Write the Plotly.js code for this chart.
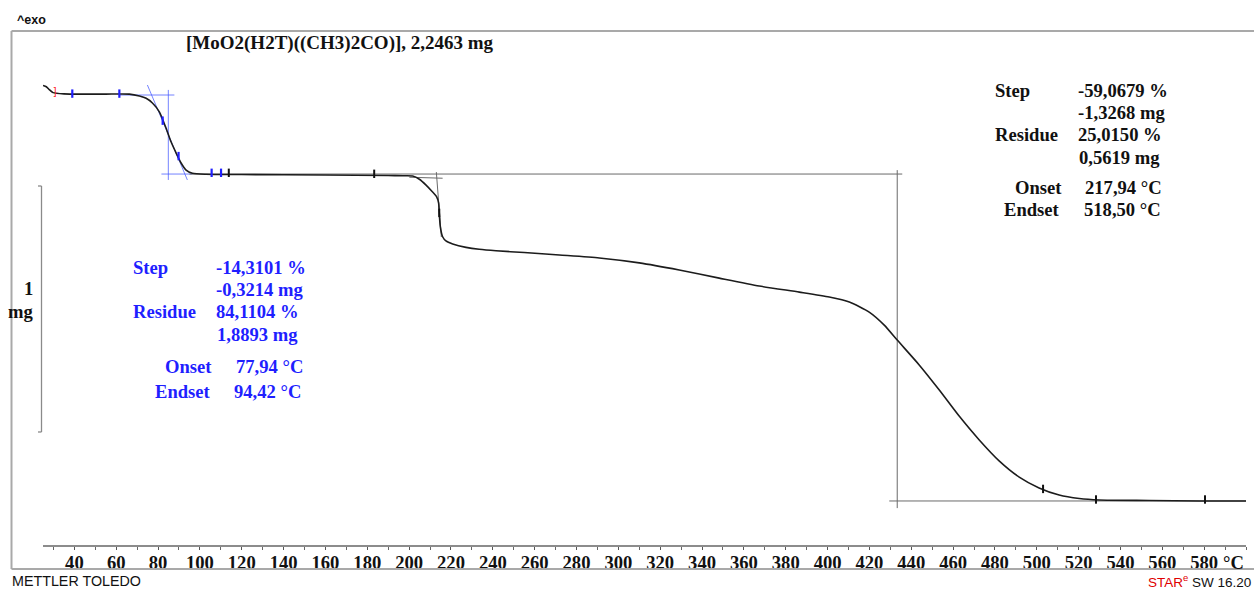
<!DOCTYPE html>
<html><head><meta charset="utf-8">
<script src="https://cdn.plot.ly/plotly-3.0.1.min.js"></script>
<style>html,body{margin:0;padding:0;background:#fff}#chart{width:1254px;height:589px}</style>
</head><body><div id="chart"></div>
<script>
// ---- TGA curve (temperature in °C, mass in mg) ----
const temperatureC = [25.0, 26.6, 28.0, 29.8, 35, 45, 55, 66.3, 71.1, 74.3, 77.3, 80.6, 83.8, 86.2, 88.6, 91.0, 93.4, 96.4, 102.9, 120, 160, 190, 197, 201.7, 204.9, 208.1, 211.1, 213.1, 214.1, 214.4, 214.9, 216.0, 217.6, 220.8, 227.2, 233.5, 241.5, 255, 271.8, 290.9, 310, 329.1, 348.2, 367.3, 386.5, 400.8, 410.4, 419.9, 427.1, 433.3, 443.8, 453.4, 462.9, 472.5, 482.0, 491.6, 501.1, 510.7, 520.3, 529.8, 553.7, 577.6, 600];
const massMg = [2.285, 2.280, 2.268, 2.256, 2.251, 2.250, 2.250, 2.250, 2.242, 2.233, 2.214, 2.178, 2.112, 2.056, 2.011, 1.970, 1.941, 1.928, 1.924, 1.923, 1.921, 1.919, 1.918, 1.917, 1.904, 1.880, 1.853, 1.833, 1.807, 1.767, 1.711, 1.670, 1.653, 1.641, 1.627, 1.619, 1.613, 1.606, 1.596, 1.584, 1.564, 1.535, 1.502, 1.470, 1.445, 1.425, 1.405, 1.364, 1.311, 1.250, 1.149, 1.047, 0.941, 0.844, 0.759, 0.693, 0.649, 0.620, 0.606, 0.600, 0.598, 0.596, 0.596];

// ---- evaluation markers ----
const blueMarkT = [39.0, 61.5, 82.2, 89.8, 105.6, 110.1];
const blueMarkM = [2.252, 2.252, 2.142, 1.998, 1.930, 1.930];
const blackMarkT = [113.8, 183.3, 214.4, 503.0, 528.3, 580.4];
const blackMarkM = [1.930, 1.926, 1.767, 0.645, 0.602, 0.602];
const limitT = [24.6, 30.6];
const limitM = [2.287, 2.255];
const limitText = ['[', ']'];

// ---- step 1 construction lines (blue) ----
const s1BaseTopT = [61.5, 87.8], s1BaseTopM = [2.2463, 2.2463];
const s1TangentT = [74.9, 94.0], s1TangentM = [2.287, 1.901];
const s1VertT = [84.9, 84.9], s1VertM = [2.267, 1.901];
const s1BaseBotT = [81.6, 96.4], s1BaseBotM = [1.925, 1.925];
// ---- step 2 construction lines (black) ----
const s2BaseTopT = [95, 435.7], s2BaseTopM = [1.925, 1.925];
const s2ExtrapT = [200.1, 216.0], s2ExtrapM = [1.912, 1.908];
const s2TangentT = [213.0, 215.4], s2TangentM = [1.933, 1.669];
const s2VertT = [433.3, 433.3], s2VertM = [1.941, 0.567];
const s2BaseBotT = [429.5, 600], s2BaseBotM = [0.596, 0.596];

// ---- axis ticks ----
const tickValues = [40,60,80,100,120,140,160,180,200,220,240,260,280,300,320,340,360,380,400,420,440,460,480,500,520,540,560,580];
const tickLabels = tickValues.map(v => '<b>' + v + '</b>');
const scaleBarTopMg = 1.8764, scaleBarLengthMg = 1;

// ---- texts ----
const titleText = '[MoO2(H2T)((CH3)2CO)], 2,2463 mg';
const step1Labels = ['Step', 'Residue'];
const step1Values = ['-14,3101 %', '-0,3214 mg', '84,1104 %', '1,8893 mg'];
const step1OnLabels = ['Onset', 'Endset'];
const step1OnValues = ['77,94 °C', '94,42 °C'];
const step2Labels = ['Step', 'Residue'];
const step2Values = ['-59,0679 %', '-1,3268 mg', '25,0150 %', '0,5619 mg'];
const step2OnLabels = ['Onset', 'Endset'];
const step2OnValues = ['217,94 °C', '518,50 °C'];

// ---- geometry helpers (pixel -> paper) ----
const L = 43, R = 8, T = 31, B = 44, W = 1254, H = 589;
const pw = W - L - R, ph = H - T - B;
const px = x => (x - L) / pw;
const py = y => (H - B - y) / ph;

const serif = {family: 'Liberation Serif, Times New Roman, serif', size: 18.6, weight: 'bold'};
const BLUE = '#1f1fff';

function lineTrace(xs, ys, color, width) {
  return {x: xs, y: ys, mode: 'lines', line: {color: color, width: width || 1}, hoverinfo: 'skip', showlegend: false};
}
const blueLine = 'rgba(70,90,255,0.75)';
const greyLine = '#6a6a6a';

const traces = [
  lineTrace(s1BaseTopT, s1BaseTopM, blueLine),
  lineTrace(s1TangentT, s1TangentM, blueLine),
  lineTrace(s1VertT, s1VertM, blueLine),
  lineTrace(s1BaseBotT, s1BaseBotM, blueLine),
  lineTrace(s2BaseTopT, s2BaseTopM, greyLine),
  lineTrace(s2ExtrapT, s2ExtrapM, greyLine),
  lineTrace(s2TangentT, s2TangentM, greyLine),
  lineTrace(s2VertT, s2VertM, greyLine),
  lineTrace(s2BaseBotT, s2BaseBotM, greyLine),
  {x: temperatureC, y: massMg, mode: 'lines', line: {color: '#1c1c1c', width: 1.6, shape: 'spline', smoothing: 0.6}, hoverinfo: 'skip', showlegend: false},
  {x: blueMarkT, y: blueMarkM, mode: 'markers', marker: {symbol: 'line-ns', size: 6, line: {color: '#2020ff', width: 2.2}}, hoverinfo: 'skip', showlegend: false},
  {x: blackMarkT, y: blackMarkM, mode: 'markers', marker: {symbol: 'line-ns', size: 6, line: {color: '#111', width: 2}}, hoverinfo: 'skip', showlegend: false},
  {x: limitT, y: limitM, mode: 'text', text: limitText, cliponaxis: false, textfont: {family: 'DejaVu Sans', size: 10, color: '#ff2020'}, hoverinfo: 'skip', showlegend: false}
];

const annotations = [];
function ann(text, x, y, anchor, font) {
  annotations.push({text: text, xref: 'paper', yref: 'paper', x: px(x), y: py(y), xanchor: anchor, yanchor: 'middle', showarrow: false, font: font});
}
const fBlue = Object.assign({}, serif, {color: BLUE});
const fBlack = Object.assign({}, serif, {color: '#111'});

ann(titleText, 184, 43, 'left', Object.assign({}, fBlack, {size: 19}));
// step 1 (blue)
ann(step1Labels[0], 131, 267, 'left', fBlue);
ann(step1Values[0], 214, 267, 'left', fBlue);
ann(step1Values[1], 214, 289, 'left', fBlue);
ann(step1Labels[1], 131, 311.5, 'left', fBlue);
ann(step1Values[2], 214, 311.5, 'left', fBlue);
ann(step1Values[3], 215, 334, 'left', fBlue);
ann(step1OnLabels[0], 213.5, 366, 'right', fBlue);
ann(step1OnValues[0], 234, 366, 'left', fBlue);
ann(step1OnLabels[1], 212.5, 391, 'right', fBlue);
ann(step1OnValues[1], 232, 391, 'left', fBlue);
// step 2 (black)
ann(step2Labels[0], 993, 90, 'left', fBlack);
ann(step2Values[0], 1076, 90, 'left', fBlack);
ann(step2Values[1], 1076, 112, 'left', fBlack);
ann(step2Labels[1], 993, 135, 'left', fBlack);
ann(step2Values[2], 1076, 135, 'left', fBlack);
ann(step2Values[3], 1076.5, 157.5, 'left', fBlack);
ann(step2OnLabels[0], 1063.5, 187.5, 'right', fBlack);
ann(step2OnValues[0], 1083, 187.5, 'left', fBlack);
ann(step2OnLabels[1], 1062, 209.5, 'right', fBlack);
ann(step2OnValues[1], 1082, 209.5, 'left', fBlack);
// scale bar label
ann('1', 35, 288, 'right', fBlack);
ann('mg', 35, 311.5, 'right', fBlack);
// units / branding
ann('°C', 1246, 562, 'right', fBlack);
ann('^exo', 15, 20, 'left', {family: 'Liberation Sans, Arial, sans-serif', size: 12.5, weight: 'bold', color: '#111'});
ann('METTLER TOLEDO', 10, 581, 'left', {family: 'Liberation Sans, Arial, sans-serif', size: 14.3, color: '#111'});
ann('<span style="color:#e00000">STAR<sup>e</sup></span> SW 16.20', 1253, 581, 'right', {family: 'Liberation Sans, Arial, sans-serif', size: 13.5, color: '#111'});

const frameColor = '#a9a9a9';
const shapes = [
  {type: 'line', xref: 'paper', yref: 'paper', x0: px(11.5), x1: px(11.5), y0: py(569), y1: py(31), line: {color: frameColor, width: 2}},
  {type: 'line', xref: 'paper', yref: 'paper', x0: px(11.5), x1: px(1256), y0: py(31), y1: py(31), line: {color: frameColor, width: 2}},
  {type: 'line', xref: 'paper', yref: 'paper', x0: px(11.5), x1: px(1256), y0: py(569), y1: py(569), line: {color: frameColor, width: 2}},
  // 1 mg scale bar
  {type: 'line', xref: 'paper', yref: 'y', x0: px(41.5), x1: px(41.5), y0: scaleBarTopMg, y1: scaleBarTopMg - scaleBarLengthMg, line: {color: '#8a8a8a', width: 1.3}},
  {type: 'line', xref: 'paper', yref: 'y', x0: px(38), x1: px(41.5), y0: scaleBarTopMg, y1: scaleBarTopMg, line: {color: '#8a8a8a', width: 1.3}},
  {type: 'line', xref: 'paper', yref: 'y', x0: px(38), x1: px(41.5), y0: scaleBarTopMg - scaleBarLengthMg, y1: scaleBarTopMg - scaleBarLengthMg, line: {color: '#8a8a8a', width: 1.3}}
];

const layout = {
  width: W, height: H,
  margin: {l: L, r: R, t: T, b: B, pad: 0},
  paper_bgcolor: '#fff', plot_bgcolor: '#fff',
  showlegend: false,
  xaxis: {
    range: [25, 600], showgrid: false, zeroline: false,
    showline: true, linecolor: '#8c8c8c', linewidth: 1.5,
    tickmode: 'array', tickvals: tickValues, ticktext: tickLabels,
    ticks: 'outside', ticklen: 3, tickwidth: 1, tickcolor: '#555',
    ticklabelstandoff: -3,
    minor: {tickmode: 'linear', tick0: 0, dtick: 10, ticks: 'outside', ticklen: 3, tickwidth: 1, tickcolor: '#666'},
    tickfont: {family: 'Liberation Serif, Times New Roman, serif', size: 18.6, color: '#111'},
    fixedrange: true
  },
  yaxis: {range: [0.4170, 2.5065], visible: false, showgrid: false, zeroline: false, fixedrange: true},
  annotations: annotations,
  shapes: shapes
};

Plotly.newPlot('chart', traces, layout, {staticPlot: true, displayModeBar: false});
</script>
</body></html>
